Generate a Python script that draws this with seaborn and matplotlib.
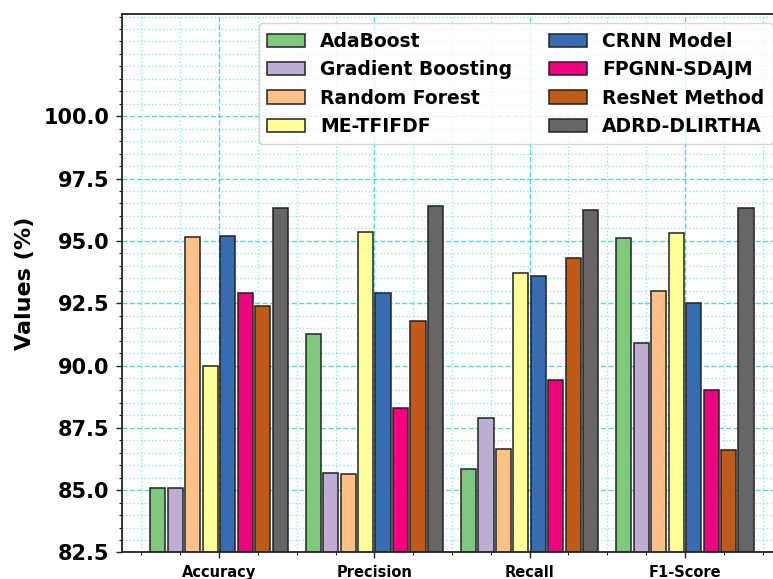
import numpy as np
import pandas as pd
import matplotlib
matplotlib.use("Agg")
import matplotlib.pyplot as plt
from matplotlib.ticker import MultipleLocator
import seaborn as sns

metrics = ["Accuracy", "Precision", "Recall", "F1-Score"]
methods = ["AdaBoost", "Gradient Boosting", "Random Forest", "ME-TFIFDF",
           "CRNN Model", "FPGNN-SDAJM", "ResNet Method", "ADRD-DLIRTHA"]

adaboost = [85.1, 91.25, 85.85, 95.1]
gradient_boosting = [85.1, 85.7, 87.9, 90.9]
random_forest = [95.15, 85.65, 86.65, 93.0]
me_tfifdf = [90.0, 95.35, 93.7, 95.3]
crnn_model = [95.2, 92.9, 93.6, 92.5]
fpgnn_sdajm = [92.9, 88.3, 89.4, 89.0]
resnet_method = [92.4, 91.8, 94.3, 86.6]
adrd_dlirtha = [96.3, 96.4, 96.25, 96.3]

series = [adaboost, gradient_boosting, random_forest, me_tfifdf,
          crnn_model, fpgnn_sdajm, resnet_method, adrd_dlirtha]

rows = []
for name, vals in zip(methods, series):
    for m, v in zip(metrics, vals):
        rows.append({"Metric": m, "Method": name, "Value": v})
df = pd.DataFrame(rows)

sns.set_style("white")
plt.rcParams["font.family"] = ["DejaVu Sans"]
plt.rcParams["font.weight"] = "bold"
plt.rcParams["text.color"] = "black"
plt.rcParams["axes.labelcolor"] = "black"
plt.rcParams["xtick.color"] = "black"
plt.rcParams["ytick.color"] = "black"

fig = plt.figure(figsize=(7.73, 5.79), dpi=100)
ax = fig.add_axes([0.1578, 0.0458, 1.0116 - 0.1578, 0.9758 - 0.0458])

palette = sns.color_palette("Accent", 8)
sns.barplot(data=df, x="Metric", y="Value", hue="Method", hue_order=methods,
            order=metrics, palette=palette, gap=0.13, width=0.9,
            edgecolor="#222222", linewidth=1.1, errorbar=None, ax=ax,
            saturation=1)

ax.set_xlim(-0.625, 3.625)
ax.set_ylim(82.5, 104.1)
ax.set_yticks(np.arange(82.5, 100.01, 2.5))
ax.yaxis.set_minor_locator(MultipleLocator(0.5))
ax.xaxis.set_minor_locator(MultipleLocator(0.25))
ax.set_xticks(range(len(metrics)))
ax.set_xticklabels(metrics, fontsize=10.5, fontweight="bold")
for lbl in ax.get_yticklabels():
    lbl.set_fontsize(15)
    lbl.set_fontweight("bold")
ax.set_xlabel("")
ax.set_ylabel("Values (%)", fontsize=16, fontweight="bold", labelpad=6.5)

ax.tick_params(axis="both", which="major", direction="out", length=4,
               width=1, bottom=True, left=True, color="#222222", pad=5)
ax.tick_params(axis="both", which="minor", direction="out", length=2.5,
               width=0.8, bottom=True, left=True, color="#222222")

ax.set_axisbelow(True)
ax.grid(which="major", linestyle="--", color="#20c8cc", alpha=0.75, linewidth=1)
ax.grid(which="minor", linestyle=":", color="#20c8cc", alpha=0.45, linewidth=1)

for s in ax.spines.values():
    s.set_color("#222222")
    s.set_linewidth(1.3)

leg = ax.legend(ncol=2, loc="upper right", prop={"weight": "bold", "size": 13.5},
                columnspacing=2.0, handlelength=2.0, handletextpad=0.8,
                borderpad=0.45, labelspacing=0.5)

fig.savefig("out.png", dpi=100)
